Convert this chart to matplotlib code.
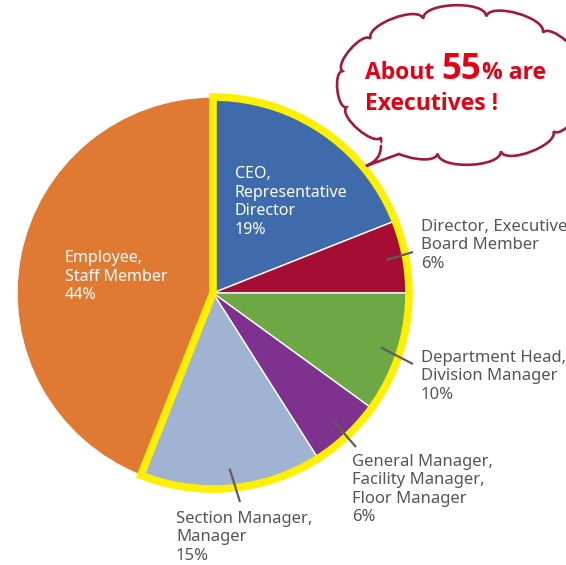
import numpy as np
import matplotlib.pyplot as plt
from matplotlib.patches import Wedge, PathPatch
from matplotlib.path import Path

plt.rcParams['font.family'] = ['Noto Sans', 'DejaVu Sans']

# data
labels = ['CEO,\nRepresentative\nDirector',
          'Director, Executive\nBoard Member',
          'Department Head,\nDivision Manager',
          'General Manager,\nFacility Manager,\nFloor Manager',
          'Section Manager,\nManager',
          'Employee,\nStaff Member']
shares = [19, 6, 10, 6, 15, 44]
is_exec = [True, True, True, True, True, False]
colors = ['#3F6BAD', '#A50D34', '#6DA845', '#7E318F', '#A1B3D3', '#E07A33']

W, H = 566, 565


def P(x, y):
    # image pixel coords -> data coords (y up)
    return x, H - y


fig = plt.figure(figsize=(W / 100, H / 100), dpi=100)
ax = fig.add_axes([0, 0, 1, 1])

cx, cy = P(213, 293)
R = 196
wedges, _ = ax.pie(shares, colors=colors, startangle=90, counterclock=False,
                   center=(cx, cy), radius=R,
                   wedgeprops=dict(edgecolor='white', linewidth=1.0))

# yellow outline around the executive slices
ex_angles = [a for w, e in zip(wedges, is_exec) if e for a in (w.theta1, w.theta2)]
ax.add_patch(Wedge((cx, cy), R, min(ex_angles), max(ex_angles), fill=False,
                   edgecolor='#FFEF00', linewidth=5.5, joinstyle='miter', zorder=5))

# labels: (text x, text y, inside?, leader end)
label_pos = [(235, 166, True, None),
             (421, 219, False, (413, 252)),
             (421, 350, False, (413, 364)),
             (352, 454, False, (356, 447)),
             (176, 511, False, (240, 502)),
             (65, 250, True, None)]

for w, lab, v, (lx, ly, inside, end) in zip(wedges, labels, shares, label_pos):
    txt = f'{lab}\n{v}%'
    if inside:
        ax.text(*P(lx, ly), txt, color='white', fontsize=11.5, ha='left',
                va='top', linespacing=1.22, zorder=6)
    else:
        ax.text(*P(lx, ly), txt, color='#555555', fontsize=12, ha='left',
                va='top', linespacing=1.2, zorder=6)
        mid = np.deg2rad((w.theta1 + w.theta2) / 2)
        x0, y0 = cx + 0.9 * R * np.cos(mid), cy + 0.9 * R * np.sin(mid)
        x1, y1 = P(*end)
        ax.plot([x0, x1], [y0, y1], color='#5E5E5E', lw=1.6,
                solid_capstyle='butt', zorder=6)

# speech cloud
ecx, ecy = 462, 85
ea, eb = 122, 70
nb = 12
t = np.linspace(0, 2 * np.pi, nb + 1) + 0.2
pts = np.c_[ecx + ea * np.cos(t), ecy + eb * np.sin(t)]
verts = [P(*pts[0])]
codes = [Path.MOVETO]
for i in range(nb):
    p0, p1 = pts[i], pts[i + 1]
    tm = (t[i] + t[i + 1]) / 2
    n = np.array([np.cos(tm) / ea, np.sin(tm) / eb])
    n = n / np.hypot(*n)
    h = 0.26 * np.hypot(*(p1 - p0))
    verts += [P(*(p0 + n * h)), P(*(p1 + n * h)), P(*p1)]
    codes += [Path.CURVE4] * 3
ax.add_patch(PathPatch(Path(verts, codes), facecolor='white',
                       edgecolor='#A0193F', lw=1.9, zorder=7))

# tail
tail_fill = [P(384, 136), P(381, 146), P(381, 158), P(366, 166), P(399, 153), P(402, 140)]
ax.add_patch(plt.Polygon(tail_fill, closed=True, facecolor='white',
                         edgecolor='none', zorder=8))
tail = Path([P(381, 146), P(381, 160), P(366, 166), P(399, 154)],
            [Path.MOVETO, Path.CURVE3, Path.CURVE3, Path.LINETO])
ax.add_patch(PathPatch(tail, facecolor='none', edgecolor='#A0193F', lw=1.9,
                       capstyle='round', zorder=9))

# bubble text
red = '#E60012'
bold_font = dict(family=['Open Sans', 'DejaVu Sans'], weight='bold')
renderer = fig.canvas.get_renderer()
x = 365
for s, fs, gap in [('About', 16.5, 7), ('55', 25, 1), ('% are', 16.5, 0)]:
    tt = ax.text(*P(x, 79), s, color=red, fontsize=fs, ha='left',
                 va='baseline', zorder=10, **bold_font)
    x += tt.get_window_extent(renderer).width + gap
ax.text(*P(365, 110), 'Executives !', color=red, fontsize=16.5,
        ha='left', va='baseline', zorder=10, **bold_font)

ax.set_xlim(0, W)
ax.set_ylim(0, H)
ax.set_aspect('auto')
ax.axis('off')

fig.savefig('out.png', dpi=100)
